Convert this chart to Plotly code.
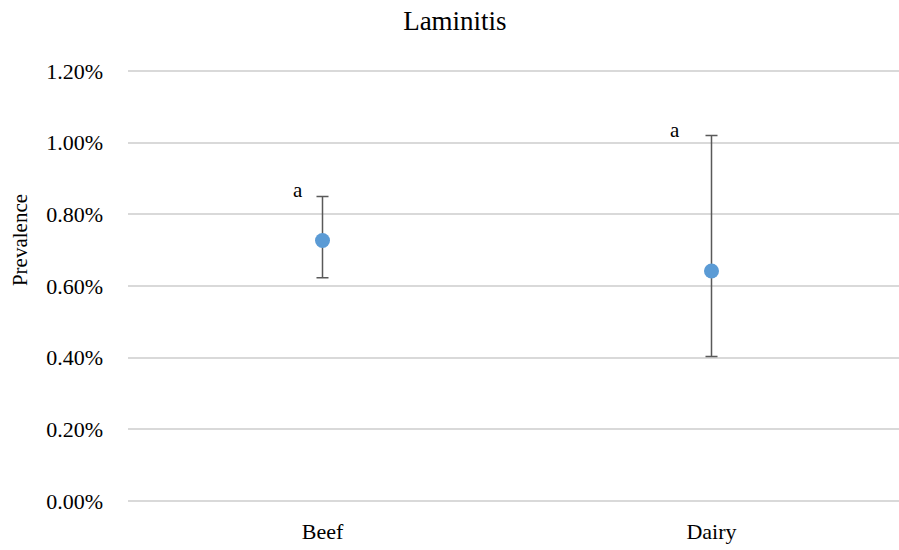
import plotly.graph_objects as go

categories = ["Beef", "Dairy"]
prevalence = [0.00727, 0.00642]
upper = [0.00850, 0.01020]
lower = [0.00623, 0.00403]
letters = ["a", "a"]
y_ticks = [0.0, 0.002, 0.004, 0.006, 0.008, 0.010, 0.012]

err_plus = [u - p for u, p in zip(upper, prevalence)]
err_minus = [p - l for p, l in zip(prevalence, lower)]

FONT = "Liberation Serif, Times New Roman, serif"

fig = go.Figure()
fig.add_trace(go.Scatter(
    x=categories, y=prevalence, mode="markers",
    marker=dict(color="#5b9bd5", size=15),
    error_y=dict(type="data", symmetric=False, array=err_plus, arrayminus=err_minus,
                 color="#595959", thickness=1.5, width=6),
    showlegend=False,
))

for c, u, t, xs in zip(categories, upper, letters, [-25, -37]):
    fig.add_annotation(x=c, y=u, text=t, showarrow=False, xshift=xs, yshift=6,
                       font=dict(family=FONT, size=21, color="#000000"))

fig.add_annotation(text="Prevalence", xref="paper", yref="paper", x=-0.140, y=0.605,
                   xanchor="center", yanchor="middle", textangle=-90, showarrow=False,
                   font=dict(family=FONT, size=21, color="#000000"))

fig.update_layout(
    width=899, height=550,
    margin=dict(l=128, r=0, t=67, b=45),
    paper_bgcolor="white", plot_bgcolor="white",
    font=dict(family=FONT, size=22, color="#000000"),
    title=dict(text="Laminitis", x=0.506, xanchor="center", y=0.962, yref="container",
               yanchor="middle", font=dict(family=FONT, size=27, color="#000000")),
    xaxis=dict(range=[-0.5, 1.482], showgrid=False, zeroline=False, showline=False,
               ticks="", ticklabelstandoff=11, tickfont=dict(size=22)),
    yaxis=dict(range=[-0.000112, 0.012112], tickvals=y_ticks, tickformat=".2%",
               showgrid=True, gridcolor="#d9d9d9", gridwidth=1.5,
               zeroline=False, showline=False, ticks="", ticklabelstandoff=24,
               tickfont=dict(size=22)),
)

fig.write_html("out.html", config={"displayModeBar": False},
               post_script="document.body.style.margin='0';document.body.style.overflow='hidden';")
